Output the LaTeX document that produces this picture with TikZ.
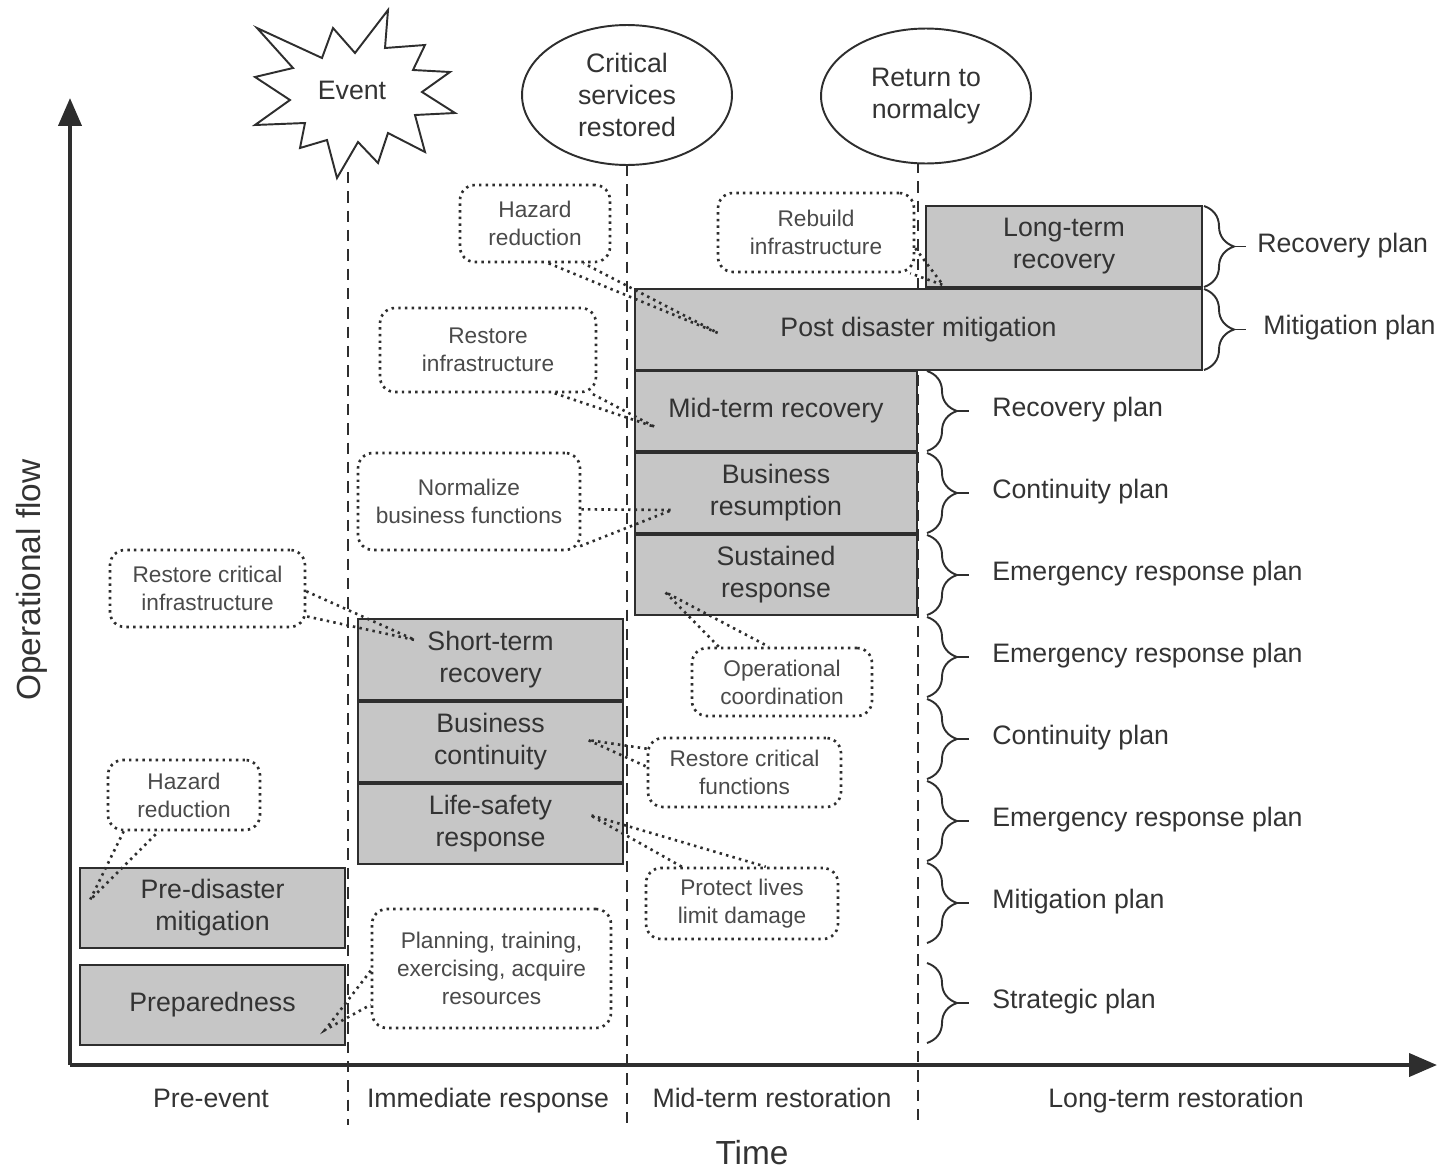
\documentclass[tikz,border=0pt]{standalone}
\usepackage{fontspec}
\setmainfont{Liberation Sans}
\usetikzlibrary{arrows.meta,shapes.geometric,decorations.pathreplacing,calc}
\definecolor{edge}{HTML}{2E2E2E}
\definecolor{ink}{HTML}{333333}
\definecolor{notetext}{HTML}{4A4A4A}
\definecolor{stagefill}{HTML}{C6C6C6}
\begin{document}
\begin{tikzpicture}[x=0.02cm,y=-0.02cm,
  every node/.style={text=ink},
  stage/.style={draw=edge, fill=stagefill, line width=1.6pt, align=center, inner sep=0pt,
    font=\fontsize{15.2}{18.2}\selectfont},
  note/.style={draw=edge, line width=1.5pt, dash pattern=on 1.4pt off 2.4pt, rounded corners=0.3cm,
    align=center, inner sep=0pt, text=notetext, font=\fontsize{12.9}{15.9}\selectfont},
  pointer/.style={draw=edge, line width=1.5pt, dash pattern=on 1.4pt off 2.4pt},
  phase/.style={draw=edge, line width=1.6pt, dash pattern=on 6.5pt off 4.5pt},
  milestone/.style={draw=edge, line width=1.1pt, ellipse, align=center, inner sep=0pt,
    font=\fontsize{15.2}{18.4}\selectfont},
  planbrace/.style={draw=edge, line width=1.1pt, decorate, decoration={brace, amplitude=0.6cm}},
  planlabel/.style={anchor=west, inner sep=0pt, text height=11pt, text depth=3pt,
    font=\fontsize{15.2}{18}\selectfont},
  phaselabel/.style={anchor=base, font=\fontsize{15.2}{18}\selectfont},
  axis/.style={draw=edge, line width=2.3pt, -{Triangle[length=0.56cm,width=0.46cm]}}]

\useasboundingbox (0,0) rectangle (1443,1170);

% phase separators
\draw[phase] (348,172) -- (348,1125);
\draw[phase] (627,165) -- (627,1125);
\draw[phase] (918,162) -- (918,1125);

% axes
\coordinate (origin) at (70,1065);
\coordinate (ytop) at (70,98);
\coordinate (xend) at (1437,1065);
\draw[axis] (origin) -- (ytop);
\draw[axis] (origin) -- (xend);
\node[rotate=90, font=\fontsize{19}{22}\selectfont] (yl) at (32,580) {Operational flow};
\node[font=\fontsize{19}{22}\selectfont] (xl) at (752,1153) {Time};

% phase names
\node[phaselabel] (p1) at (211,1107) {Pre-event};
\node[phaselabel] (p2) at (488,1107) {Immediate response};
\node[phaselabel] (p3) at (772,1107) {Mid-term restoration};
\node[phaselabel] (p4) at (1176,1107) {Long-term restoration};

% milestones
\draw[draw=edge, line width=1.1pt, fill=white]
  (257,28) -- (322,58) -- (333,28) -- (355,53) -- (388,10) -- (385,48) -- (425,45)
  -- (413,70) -- (450,72) -- (422,92) -- (455,113) -- (415,115) -- (425,152)
  -- (388,133) -- (378,163) -- (358,142) -- (337,178) -- (327,140) -- (300,148)
  -- (305,123) -- (255,125) -- (290,100) -- (255,77) -- (293,68) -- cycle;
\node[font=\fontsize{15.2}{18}\selectfont] (event) at (352,90) {Event};
\node[milestone, fill=white, minimum width=4.2cm, minimum height=2.8cm] (crit) at (627,95)
  {Critical\\services\\restored};
\node[milestone, fill=white, minimum width=4.2cm, minimum height=2.7cm] (norm) at (926,96)
  {Return to\\normalcy};

% activity stages
\node[stage, minimum width=5.52cm, minimum height=1.62cm] (ltr) at (1064,246.5) {Long-term\\recovery};
\node[stage, minimum width=11.34cm, minimum height=1.62cm] (pdm) at (918.5,329.5) {Post disaster mitigation};
\node[stage, minimum width=5.64cm, minimum height=1.6cm] (mtr) at (776,411) {Mid-term recovery};
\node[stage, minimum width=5.64cm, minimum height=1.6cm] (bres) at (776,493) {Business\\resumption};
\node[stage, minimum width=5.64cm, minimum height=1.6cm] (sus) at (776,575) {Sustained\\response};
\node[stage, minimum width=5.3cm, minimum height=1.62cm] (str) at (490.5,659.5) {Short-term\\recovery};
\node[stage, minimum width=5.3cm, minimum height=1.6cm] (bcon) at (490.5,742) {Business\\continuity};
\node[stage, minimum width=5.3cm, minimum height=1.6cm] (lsr) at (490.5,824) {Life-safety\\response};
\node[stage, minimum width=5.3cm, minimum height=1.6cm] (pdis) at (212.5,908) {Pre-disaster\\mitigation};
\node[stage, minimum width=5.3cm, minimum height=1.6cm] (prep) at (212.5,1005) {Preparedness};

% plan braces
\draw[planbrace] (1204,206) -- (1204,287);
\draw[planbrace] (1204,289) -- (1204,370);
\draw[draw=edge, line width=1.1pt] (1234,246.5) -- (1246,246.5);
\draw[draw=edge, line width=1.1pt] (1234,329.5) -- (1246,329.5);
\node[planlabel] (pl1) at (1257,245) {Recovery plan};
\node[planlabel] (pl2) at (1263,327) {Mitigation plan};

\foreach \top/\bot/\lbl [count=\i] in {371/451/Recovery plan, 453/533/Continuity plan,
    535/615/Emergency response plan, 617/697/Emergency response plan,
    699/779/Continuity plan, 781/861/Emergency response plan,
    863/943/Mitigation plan, 963/1043/Strategic plan}{
  \draw[planbrace] (927,\top) -- (927,\bot);
  \draw[draw=edge, line width=1.1pt] (957,{(\top+\bot)/2}) -- (969,{(\top+\bot)/2});
  \node[planlabel] (plan\i) at (992,{(\top+\bot)/2-2}) {\lbl};
}

% callouts
\node[note, fill=white, minimum width=3.0cm, minimum height=1.54cm] (hzA) at (535,223.5) {Hazard\\reduction};
\node[note, fill=white, minimum width=3.92cm, minimum height=1.58cm] (reb) at (816,232.5) {Rebuild\\infrastructure};
\node[note, fill=white, minimum width=4.32cm, minimum height=1.68cm] (rinf) at (488,350) {Restore\\infrastructure};
\node[note, fill=white, minimum width=4.44cm, minimum height=1.94cm] (nbf) at (469,501.5) {Normalize\\business functions};
\node[note, fill=white, minimum width=3.9cm, minimum height=1.54cm] (rci) at (207.5,588.5) {Restore critical\\infrastructure};
\node[note, fill=white, minimum width=3.6cm, minimum height=1.36cm] (opc) at (782,682) {Operational\\coordination};
\node[note, fill=white, minimum width=3.86cm, minimum height=1.38cm] (rcf) at (744.5,772.5) {Restore critical\\functions};
\node[note, fill=white, minimum width=3.84cm, minimum height=1.42cm] (pld) at (742,903.5) {Protect lives\\limit damage};
\node[note, fill=white, minimum width=3.04cm, minimum height=1.4cm] (hzB) at (184,795) {Hazard\\reduction};
\node[note, fill=white, minimum width=4.78cm, minimum height=2.38cm] (ptr) at (491.5,968.5) {Planning, training,\\exercising, acquire\\resources};

% callout tips
\coordinate (tA) at (718,333);
\coordinate (tReb) at (943,285);
\coordinate (tRinf) at (655,427);
\coordinate (tNbf) at (672,510);
\coordinate (tRci) at (415,640);
\coordinate (tOpc) at (665,592);
\coordinate (tRcf) at (588,740);
\coordinate (tPld) at (590,815);
\coordinate (tB) at (90,900);
\coordinate (tPtr) at (325,1030);

\draw[pointer] ($(hzA.south west)+(90,0)$) -- (tA) -- ($(hzA.south west)+(125,0)$);
\draw[pointer] ($(reb.south east)+(0,-25)$) -- (tReb) -- ($(reb.south east)+(-5,0)$);
\draw[pointer] ($(rinf.south west)+(176,0)$) -- (tRinf) -- ($(rinf.south east)+(-6,0)$);
\draw[pointer] ($(nbf.south east)+(0,-42)$) -- (tNbf) -- ($(nbf.south east)+(-4,-4)$);
\draw[pointer] ($(rci.south east)+(0,-37)$) -- (tRci) -- ($(rci.south east)+(0,-12)$);
\draw[pointer] ($(opc.north west)+(28,0)$) -- (tOpc) -- ($(opc.north west)+(78,0)$);
\draw[pointer] ($(rcf.north west)+(0,12)$) -- (tRcf) -- ($(rcf.north west)+(0,30)$);
\draw[pointer] ($(pld.north west)+(37,0)$) -- (tPld) -- ($(pld.north west)+(121,0)$);
\draw[pointer] ($(hzB.south west)+(17,0)$) -- (tB) -- ($(hzB.south west)+(52,0)$);
\draw[pointer] ($(ptr.north west)+(0,63)$) -- (tPtr) -- ($(ptr.north west)+(0,97)$);

\end{tikzpicture}
\end{document}
